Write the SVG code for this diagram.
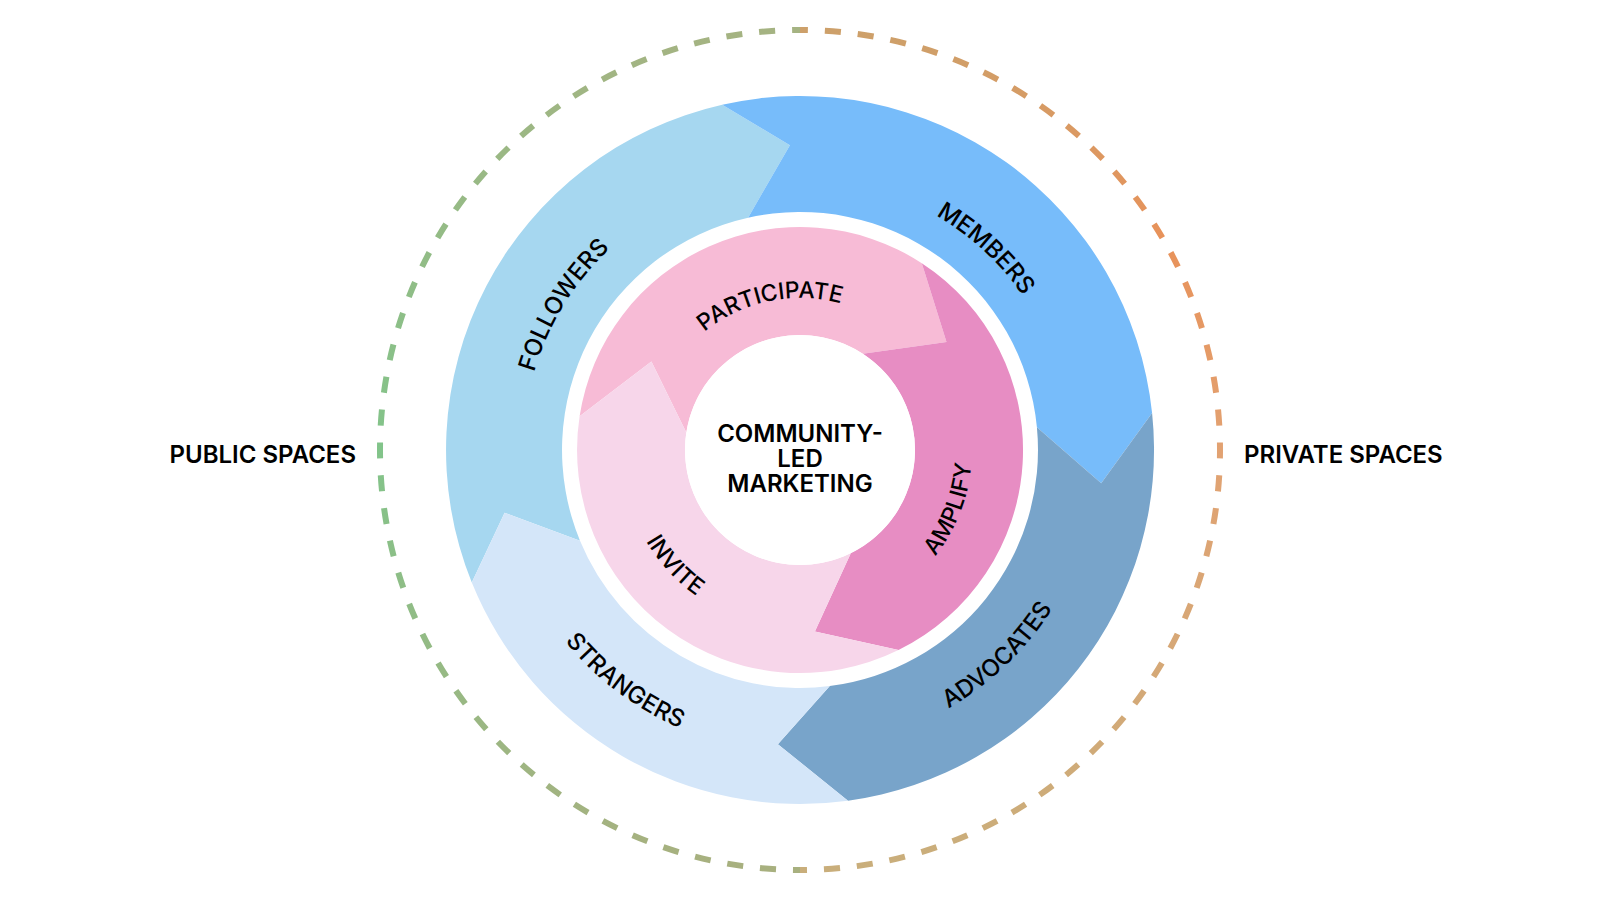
<svg xmlns="http://www.w3.org/2000/svg" width="1600" height="900" viewBox="0 0 1600 900">
<style>
.lbl{font-family:Inter,"Liberation Sans",sans-serif;font-weight:500;font-size:24px;fill:#000;}
.ilbl{font-family:Inter,"Liberation Sans",sans-serif;font-weight:500;font-size:23px;fill:#000;}
.big{font-family:Inter,"Liberation Sans",sans-serif;font-weight:600;font-size:24px;fill:#000;}
.dash{fill:none;stroke-width:6;stroke-dasharray:16 17;stroke-dashoffset:8;}
</style>
<defs>
<linearGradient id="gL" x1="0" y1="0" x2="0" y2="1">
<stop offset="0" stop-color="#a5b382"/>
<stop offset="0.5" stop-color="#82c48a"/>
<stop offset="1" stop-color="#a8b07f"/>
</linearGradient>
<linearGradient id="gR" x1="0" y1="0" x2="0" y2="1">
<stop offset="0" stop-color="#cda06a"/>
<stop offset="0.25" stop-color="#e8925a"/>
<stop offset="0.5" stop-color="#e2a272"/>
<stop offset="1" stop-color="#c9ae7b"/>
</linearGradient>
<path id="tFollowers" d="M556.6,582.2 A277,277 0 0 1 807.3,173.1"/>
<path id="tMembers" d="M719.4,191.3 A271,271 0 0 1 1064.4,509.6"/>
<path id="tAdvocates" d="M717.4,736.3 A298,298 0 0 0 1089.3,378.4"/>
<path id="tStrangers" d="M499.3,412.5 A303,303 0 0 0 917.9,729.1"/>
<path id="tParticipate" d="M655.7,402.3 A152,152 0 0 1 913.5,348.9"/>
<path id="tAmplify" d="M825.7,620.1 A172,172 0 0 0 934.4,342.7"/>
<path id="tInvite" d="M629.1,396.8 A179,179 0 0 0 839.3,624.6"/>
</defs>
<rect width="1600" height="900" fill="#fff"/>

<g id="boundary">
<path class="dash" stroke="url(#gL)" d="M800,30 A420,420 0 0 0 800,870"/>
<path class="dash" stroke="url(#gR)" d="M800,30 A420,420 0 0 1 800,870"/>
</g>

<g id="followers">
<path fill="#a6d7f0" d="M471.8,582.6 A354,354 0 0 1 722.2,104.7 L789.9,145.2 L748.1,217.7 A238,238 0 0 0 580.0,540.7 L504.6,512.8 Z"/>
<text class="lbl"><textPath href="#tFollowers" startOffset="50%" text-anchor="middle">FOLLOWERS</textPath></text>
</g>
<g id="members">
<path fill="#77bcfa" d="M722.2,104.7 A354,354 0 0 1 1152.1,413.0 L1101.2,483.2 L1036.9,427.2 A238,238 0 0 0 748.1,217.7 L789.9,145.2 Z"/>
<text class="lbl"><textPath href="#tMembers" startOffset="50%" text-anchor="middle">MEMBERS</textPath></text>
</g>
<g id="advocates">
<path fill="#78a4ca" d="M1152.1,413.0 A354,354 0 0 1 848.0,800.7 L777.9,744.2 L829.8,686.1 A238,238 0 0 0 1036.9,427.2 L1101.2,483.2 Z"/>
<text class="lbl"><textPath href="#tAdvocates" startOffset="50%" text-anchor="middle">ADVOCATES</textPath></text>
</g>
<g id="strangers">
<path fill="#d4e6f9" d="M848.0,800.7 A354,354 0 0 1 471.8,582.6 L504.6,512.8 L580.0,540.7 A238,238 0 0 0 829.8,686.1 L777.9,744.2 Z"/>
<text class="lbl"><textPath href="#tStrangers" startOffset="50%" text-anchor="middle">STRANGERS</textPath></text>
</g>

<g id="participate">
<path fill="#f7bbd6" d="M579.6,416.3 A223,223 0 0 1 921.8,263.2 L946.5,342.0 L862.8,353.7 A115,115 0 0 0 686.3,432.6 L651.4,361.4 Z"/>
<text class="ilbl"><textPath href="#tParticipate" startOffset="50%" text-anchor="middle">PARTICIPATE</textPath></text>
</g>
<g id="amplify">
<path fill="#e78dc3" d="M921.8,263.2 A223,223 0 0 1 898.5,650.1 L814.9,631.4 L850.8,553.2 A115,115 0 0 0 862.8,353.7 L946.5,342.0 Z"/>
<text class="ilbl"><textPath href="#tAmplify" startOffset="50%" text-anchor="middle">AMPLIFY</textPath></text>
</g>
<g id="invite">
<path fill="#f7d6ea" d="M898.5,650.1 A223,223 0 0 1 579.6,416.3 L651.4,361.4 L686.3,432.6 A115,115 0 0 0 850.8,553.2 L814.9,631.4 Z"/>
<text class="ilbl"><textPath href="#tInvite" startOffset="50%" text-anchor="middle">INVITE</textPath></text>
</g>

<g id="center">
<circle cx="800" cy="450" r="115" fill="#fff"/>
<text class="big" x="800" y="442" text-anchor="middle">COMMUNITY-</text>
<text class="big" x="800" y="467" text-anchor="middle">LED</text>
<text class="big" x="800" y="492" text-anchor="middle">MARKETING</text>
</g>

<g id="public">
<text class="big" x="356" y="463" text-anchor="end">PUBLIC SPACES</text>
</g>
<g id="private">
<text class="big" x="1244" y="463">PRIVATE SPACES</text>
</g>
</svg>
